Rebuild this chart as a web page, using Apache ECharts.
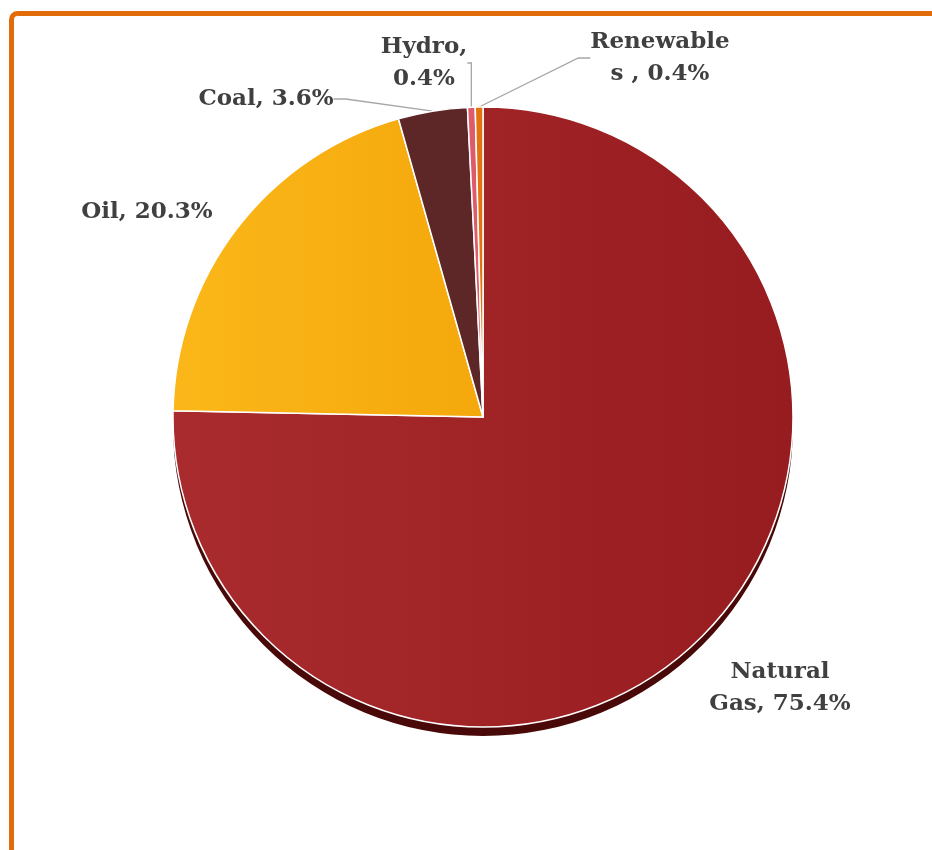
<!DOCTYPE html>
<html>
<head>
<meta charset="utf-8">
<script src="https://cdn.jsdelivr.net/npm/echarts@6/dist/echarts.min.js"></script>
<style>
html,body{margin:0;padding:0;background:#fff;}
#chart{width:932px;height:850px;}
</style>
</head>
<body>
<div id="chart"></div>
<script>
const categories = ['Natural Gas', 'Oil', 'Coal', 'Hydro', 'Renewables'];
const labelNames = ['Natural\nGas', 'Oil', 'Coal', 'Hydro,\n', 'Renewable\ns '];
const values = [75.4, 20.3, 3.6, 0.4, 0.4];
const colors = [
  {type:'linear',x:0,y:0,x2:1,y2:0,colorStops:[{offset:0,color:'#A92B2D'},{offset:1,color:'#971C1F'}]},
  {type:'linear',x:0,y:0,x2:1,y2:0,colorStops:[{offset:0,color:'#FBB719'},{offset:1,color:'#F4A80C'}]},
  '#5E2727',
  '#DE5B6B',
  '#E2740F'
];
// label anchor positions (text centres)
const labelPos = [[780, 688], [147, 212], [266, 99], [424, 63], [660, 58]];

const chart = echarts.init(document.getElementById('chart'), null, {renderer:'canvas'});
const font = "'DejaVu Serif', Georgia, serif";
const mainData = categories.map((c, i) => ({
  name: c,
  value: values[i],
  itemStyle: {color: colors[i]},
  labelLine: {show: i >= 2}
}));
chart.setOption({
  animation: false,
  graphic: [{
    type: 'rect',
    shape: {x: 11.5, y: 13.5, width: 1000, height: 1000, r: 6},
    style: {fill: 'none', stroke: '#E36C0A', lineWidth: 5},
    z: 0
  }],
  series: [
    {
      type: 'pie',
      center: [483, 426],
      radius: 310,
      silent: true,
      z: 1,
      label: {show: false},
      labelLine: {show: false},
      itemStyle: {color: '#4A0909'},
      data: categories.map((c, i) => ({name: c, value: values[i]}))
    },
    {
      type: 'pie',
      center: [483, 417],
      radius: 310,
      startAngle: 90,
      clockwise: true,
      z: 2,
      itemStyle: {borderColor: '#ffffff', borderWidth: 1.5},
      label: {
        show: true,
        position: 'outside',
        color: '#404040',
        fontFamily: font,
        fontWeight: 'bold',
        fontSize: 23,
        lineHeight: 32,
        align: 'center',
        formatter: p => {
          const n = labelNames[p.dataIndex];
          return n.endsWith('\n') ? n + p.value + '%' : n + ', ' + p.value + '%';
        }
      },
      labelLine: {show: true, length: 20, length2: 12, lineStyle: {color: '#A6A6A6', width: 1.3}},
      labelLayout: p => {
        const pos = labelPos[p.dataIndex];
        return {x: pos[0], y: pos[1], align: 'center', verticalAlign: 'middle'};
      },
      data: mainData
    }
  ]
});
</script>
</body>
</html>
